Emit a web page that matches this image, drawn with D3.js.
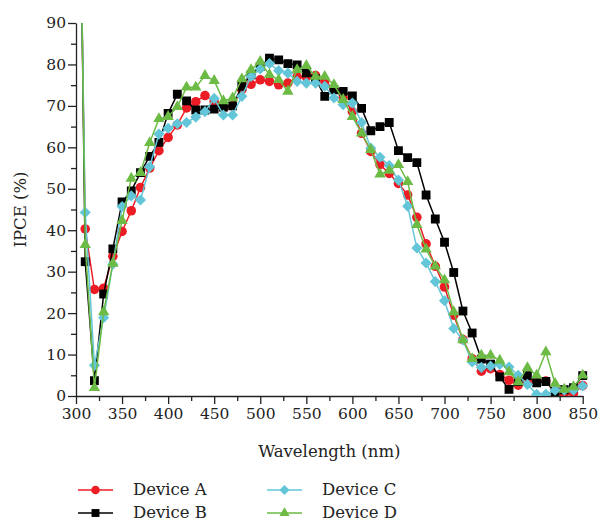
<!DOCTYPE html>
<html>
<head>
<meta charset="utf-8">
<script src="https://cdn.jsdelivr.net/npm/d3@7"></script>
<style>
  body { margin: 0; background: #fff; }
  text { font-family: "DejaVu Serif", "Liberation Serif", serif; fill: #222; }
  .axis path, .axis line { stroke: #222; stroke-width: 1.3; }
</style>
</head>
<body>
<div id="chart"></div>
<script>
// Wavelength (nm); the first entry is the off-scale starting point
const wavelengths = [306, 310, 320, 330, 340, 350, 360, 370, 380, 390, 400, 410, 420, 430, 440, 450,
  460, 470, 480, 490, 500, 510, 520, 530, 540, 550, 560, 570, 580, 590, 600,
  610, 620, 630, 640, 650, 660, 670, 680, 690, 700, 710, 720, 730, 740, 750,
  760, 770, 780, 790, 800, 810, 820, 830, 840, 850];

const deviceA = [100, 40.3, 25.7, 26, 33.7, 39.7, 44.7, 50.3, 55, 59.2, 62.4, 65.4, 69.5, 71, 72.5, 71,
  69.5, 70, 73.9, 75.2, 76.3, 75.9, 75.1, 75.5, 77, 77, 77.3, 75.9, 74, 72, 68.6,
  63.4, 59, 55.8, 53.7, 51.3, 48.5, 43.1, 36.7, 31.3, 26.3, 19.5, 13.6, 9, 6, 6.6,
  5.2, 3.8, 2.6, 3.6, 3.6, 3.6, 0.6, 0.6, 0.7, 2.5];

const deviceB = [100, 32.4, 3.7, 24.6, 35.5, 46.8, 49.5, 53.9, 57.8, 61.2, 68.2, 72.8, 71.2, 69, 69, 69.2,
  69.7, 70, 74.7, 77.5, 79.5, 81.5, 81.1, 80.2, 79.9, 78, 76.5, 72.3, 73.9, 73.5, 72.4,
  69.4, 64, 65, 66, 59.2, 57.5, 56.3, 48.5, 42.7, 37.1, 29.8, 20.5, 15.2, 8.9, 7.7,
  4.6, 1.6, 3.5, 4.9, 3.2, 3.5, 1, 1.5, 2, 4.9];

const deviceC = [100, 44.3, 7.4, 18.9, 31.8, 45.7, 48.3, 47.3, 55.3, 63.2, 64.6, 65.7, 66, 67.3, 68.6, 71.8,
  67.8, 67.8, 72.3, 77.1, 78.9, 80.2, 78.5, 77.9, 75.9, 75.5, 75.5, 74.7, 71.9, 70.3, 70.7,
  66, 59.8, 57.6, 55.6, 52.1, 45.8, 35.7, 32.1, 27.6, 23, 16.3, 13.5, 8.2, 6.9, 7.2,
  7.6, 7, 5, 2.8, 0.4, 0.4, 1.4, 1.4, 1.4, 2.4];

const deviceD = [100, 36.5, 2, 20.3, 32, 42.3, 52.5, 53.9, 61.1, 66.9, 67.4, 69.8, 74.5, 74.5, 77.3, 76.1,
  71.2, 71.9, 76.5, 78.7, 80.7, 77.5, 76.3, 73.5, 78.7, 79.7, 77.1, 77.1, 75.1, 71.5, 67.4,
  63.4, 59.4, 53.5, 54.4, 55.8, 51.7, 41.3, 35.4, 31.3, 28, 20.3, 13.5, 9, 9.8, 9.8,
  8.6, 5.8, 3.4, 6.8, 5, 10.6, 3, 1.6, 2.2, 5];

const seriesNames = ["Device A", "Device B", "Device C", "Device D"];
const xTicks = [300, 350, 400, 450, 500, 550, 600, 650, 700, 750, 800, 850];
const yTicks = [0, 10, 20, 30, 40, 50, 60, 70, 80, 90];

const series = [
  { name: seriesNames[0], values: deviceA, color: "#ec1c24", symbol: d3.symbolCircle, size: 72, rotate: 0 },
  { name: seriesNames[1], values: deviceB, color: "#000000", symbol: d3.symbolSquare, size: 78, rotate: 0 },
  { name: seriesNames[2], values: deviceC, color: "#62c6d8", symbol: d3.symbolSquare, size: 62, rotate: 45 },
  { name: seriesNames[3], values: deviceD, color: "#6cbb45", symbol: d3.symbolTriangle, size: 56, rotate: 0 }
];

// chart dimensions
const width = 601;
const height = 523;
const marginLeft = 76;
const marginRight = 18;
const marginTop = 23;
const plotBottom = 396;

const x = d3.scaleLinear()
  .domain([300, 850])
  .range([marginLeft, width - marginRight - 0.3]);

const y = d3.scaleLinear()
  .domain([0, 90])
  .range([plotBottom, marginTop]);

const svg = d3.select("#chart")
  .append("svg")
  .attr("width", width)
  .attr("height", height);

svg.append("clipPath")
  .attr("id", "plotclip")
  .append("rect")
  .attr("x", marginLeft)
  .attr("y", marginTop)
  .attr("width", x(850) - marginLeft + 8)
  .attr("height", plotBottom - marginTop);

// x axis with minor ticks
svg.append("g")
  .attr("class", "axis")
  .attr("transform", `translate(0,${plotBottom})`)
  .call(d3.axisBottom(x).tickValues(d3.range(325, 850, 50)).tickSize(5).tickFormat(""))
  .call(g => g.select(".domain").remove());

svg.append("g")
  .attr("class", "axis")
  .attr("transform", `translate(0,${plotBottom})`)
  .call(d3.axisBottom(x).tickValues(xTicks).tickSize(8).tickSizeOuter(0).tickPadding(4))
  .call(g => g.selectAll("text").style("font-size", "15.5px"));

// y axis with minor ticks
svg.append("g")
  .attr("class", "axis")
  .attr("transform", `translate(${marginLeft},0)`)
  .call(d3.axisLeft(y).tickValues(d3.range(5, 90, 10)).tickSize(5).tickFormat(""))
  .call(g => g.select(".domain").remove());

svg.append("g")
  .attr("class", "axis")
  .attr("transform", `translate(${marginLeft},0)`)
  .call(d3.axisLeft(y).tickValues(yTicks).tickSize(8).tickSizeOuter(0).tickPadding(2))
  .call(g => g.selectAll("text").style("font-size", "15.5px"));

// axis titles
svg.append("text")
  .attr("x", (marginLeft + x(850)) / 2)
  .attr("y", 457)
  .attr("text-anchor", "middle")
  .style("font-size", "16.5px")
  .text("Wavelength (nm)");

svg.append("text")
  .attr("transform", `translate(26,${(marginTop + plotBottom) / 2}) rotate(-90)`)
  .attr("text-anchor", "middle")
  .style("font-size", "16.5px")
  .text("IPCE (%)");

// lines and markers
const line = d3.line()
  .x((d, i) => x(wavelengths[i]))
  .y(d => y(d));

const plot = svg.append("g").attr("clip-path", "url(#plotclip)");

series.forEach(s => {
  const g = plot.append("g");
  g.append("path")
    .datum(s.values)
    .attr("fill", "none")
    .attr("stroke", s.color)
    .attr("stroke-width", 1.5)
    .attr("d", line);
  g.selectAll("path.marker")
    .data(s.values)
    .join("path")
    .attr("class", "marker")
    .attr("fill", s.color)
    .attr("transform", (d, i) => `translate(${x(wavelengths[i])},${y(d)}) rotate(${s.rotate})`)
    .attr("d", d3.symbol().type(s.symbol).size(s.size));
});

// legend
const legendPos = [[78, 489], [78, 512], [267, 489], [267, 512]];
const legend = svg.append("g")
  .selectAll("g")
  .data(series)
  .join("g")
  .attr("transform", (d, i) => `translate(${legendPos[i][0]},${legendPos[i][1]})`);

legend.append("line")
  .attr("x1", 0)
  .attr("x2", 35)
  .attr("y1", 1)
  .attr("y2", 1)
  .attr("stroke", d => d.color)
  .attr("stroke-width", 1.5);

legend.append("path")
  .attr("fill", d => d.color)
  .attr("transform", d => `translate(17.5,1) rotate(${d.rotate})`)
  .attr("d", d => d3.symbol().type(d.symbol).size(d.size * 0.8)());

legend.append("text")
  .attr("x", 55)
  .attr("y", 6)
  .style("font-size", "16.5px")
  .text(d => d.name);
</script>
</body>
</html>
